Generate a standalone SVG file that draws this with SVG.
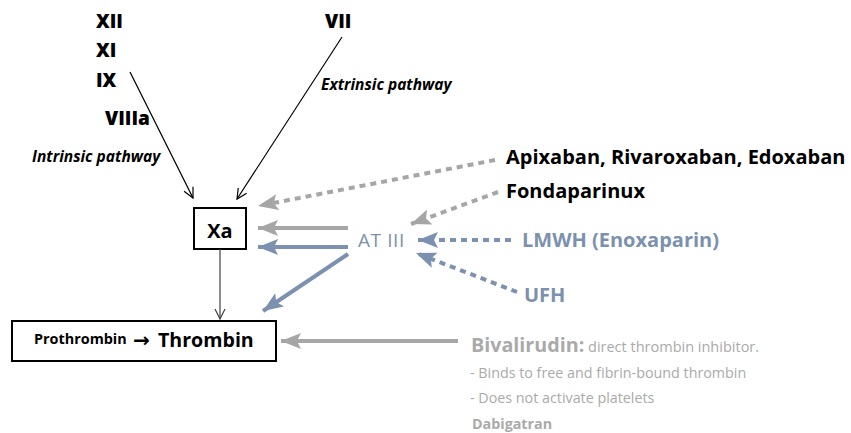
<svg xmlns="http://www.w3.org/2000/svg" width="851" height="433" viewBox="0 0 851 433">
  <style>
    text { font-family: "Open Sans", "Noto Sans", "Liberation Sans", sans-serif; }
    .roman { font-weight: 800; font-size: 19px; fill: #000; }
    .path { font-weight: bold; font-style: italic; font-size: 15.5px; fill: #000; }
    .drug { font-weight: bold; font-size: 20px; fill: #000; }
    .blue { fill: #7b91ad; }
    .grey { fill: #aaaaaa; }
    .box { fill: #fff; stroke: #000; stroke-width: 2; }
    .thin { stroke: #000; stroke-width: 1.2; fill: none; }
    .g-solid { stroke: #a6a6a6; stroke-width: 4; fill: none; }
    .b-solid { stroke: #7b91ad; stroke-width: 4; fill: none; }
    .g-dash { stroke: #a6a6a6; stroke-width: 4; stroke-dasharray: 6 5; fill: none; }
    .b-dash { stroke: #7b91ad; stroke-width: 4; stroke-dasharray: 6 5; fill: none; }
  </style>
  <defs>
    <marker id="open" viewBox="0 0 12 12" refX="11" refY="6" markerWidth="12" markerHeight="12" markerUnits="userSpaceOnUse" orient="auto">
      <path d="M1,1 L11,6 L1,11" fill="none" stroke="#000" stroke-width="1.2"/>
    </marker>
    <marker id="openDark" viewBox="0 0 12 12" refX="11" refY="6" markerWidth="12" markerHeight="12" markerUnits="userSpaceOnUse" orient="auto">
      <path d="M1,1 L11,6 L1,11" fill="none" stroke="#404040" stroke-width="1.2"/>
    </marker>
    <marker id="headG" viewBox="0 0 20 16" refX="20" refY="8" markerWidth="20" markerHeight="16" markerUnits="userSpaceOnUse" orient="auto">
      <path d="M0,0 L20,8 L0,16 L4,8 Z" fill="#a6a6a6"/>
    </marker>
    <marker id="headB" viewBox="0 0 20 16" refX="20" refY="8" markerWidth="20" markerHeight="16" markerUnits="userSpaceOnUse" orient="auto">
      <path d="M0,0 L20,8 L0,16 L4,8 Z" fill="#7b91ad"/>
    </marker>
  </defs>

  <!-- clotting factors -->
  <g id="factors">
    <text class="roman" x="96" y="28">XII</text>
    <text class="roman" x="96" y="57">XI</text>
    <text class="roman" x="96" y="87">IX</text>
    <text class="roman" x="105" y="125">VIIIa</text>
    <text class="roman" x="325" y="28">VII</text>
    <text class="path" x="32" y="162">Intrinsic pathway</text>
    <text class="path" x="321" y="90">Extrinsic pathway</text>
  </g>

  <!-- factor Xa -->
  <g id="xa">
    <rect class="box" x="194" y="208" width="52" height="41"/>
    <text x="220" y="238" text-anchor="middle" style="font-weight:bold;font-size:20px">Xa</text>
  </g>

  <!-- prothrombin to thrombin -->
  <g id="thrombin">
    <rect class="box" x="12" y="321" width="264" height="40"/>
    <text x="34" y="344" style="font-weight:bold;font-size:14.4px">Prothrombin</text>
    <text x="133" y="347" style="font-family:'DejaVu Sans',sans-serif;font-weight:bold;font-size:20px">→</text>
    <text x="158" y="347" style="font-weight:bold;font-size:19.6px">Thrombin</text>
  </g>

  <!-- antithrombin -->
  <g id="at3">
    <text class="blue" x="358" y="247" style="font-size:19px" letter-spacing="0.6">AT III</text>
  </g>

  <!-- drugs -->
  <g id="doacs">
    <text class="drug" x="506" y="164">Apixaban, Rivaroxaban, Edoxaban</text>
  </g>
  <g id="fondaparinux">
    <text class="drug" x="506" y="198">Fondaparinux</text>
  </g>
  <g id="lmwh">
    <text class="drug blue" x="522" y="247">LMWH (Enoxaparin)</text>
  </g>
  <g id="ufh">
    <text class="drug blue" x="524" y="302">UFH</text>
  </g>
  <g id="bivalirudin">
    <text x="471" y="352" class="grey"><tspan style="font-weight:bold;font-size:19.7px">Bivalirudin:</tspan><tspan style="font-size:14.5px"> direct thrombin inhibitor.</tspan></text>
    <text x="470" y="378" class="grey" style="font-size:14.3px">- Binds to free and fibrin-bound thrombin</text>
    <text x="470" y="403" class="grey" style="font-size:14.3px">- Does not activate platelets</text>
    <text x="472" y="429" class="grey" style="font-weight:bold;font-size:14.3px">Dabigatran</text>
  </g>

  <!-- connectors -->
  <g id="connectors">
    <line class="thin" x1="130" y1="72" x2="193" y2="198" marker-end="url(#open)"/>
    <line class="thin" x1="342" y1="37" x2="237" y2="199" marker-end="url(#open)"/>
    <line x1="220" y1="249" x2="220" y2="319" stroke="#404040" stroke-width="1.2" marker-end="url(#openDark)"/>

    <line class="g-dash" x1="495" y1="160" x2="258" y2="206" marker-end="url(#headG)"/>
    <line class="g-dash" x1="498" y1="192" x2="411" y2="224" marker-end="url(#headG)"/>
    <line class="g-solid" x1="348" y1="228" x2="258" y2="228" marker-end="url(#headG)"/>
    <line class="b-solid" x1="348" y1="247" x2="258" y2="247" marker-end="url(#headB)"/>
    <line class="b-solid" x1="348" y1="254" x2="263" y2="311" marker-end="url(#headB)"/>
    <line class="b-dash" x1="511" y1="240" x2="418" y2="240" marker-end="url(#headB)"/>
    <line class="b-dash" x1="517" y1="292" x2="416" y2="253" marker-end="url(#headB)"/>
    <line class="g-solid" x1="458" y1="341" x2="281" y2="341" marker-end="url(#headG)"/>
  </g>
</svg>
